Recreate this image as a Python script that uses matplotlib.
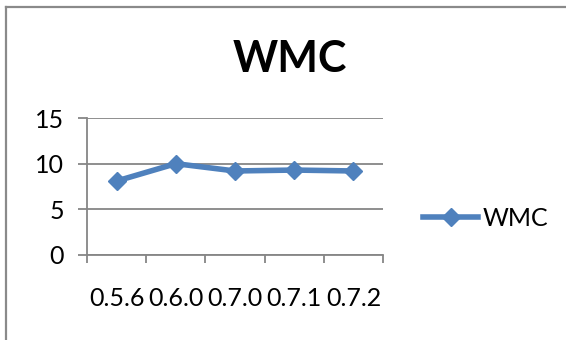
import matplotlib
matplotlib.use("Agg")
import matplotlib.pyplot as plt
from matplotlib.lines import Line2D

# Data
versions = ["0.5.6", "0.6.0", "0.7.0", "0.7.1", "0.7.2"]
wmc = [8.1, 10.0, 9.2, 9.3, 9.2]
y_ticks = [0, 5, 10, 15]
series_name = "WMC"

W, H = 566, 340
plt.rcParams["font.family"] = ["Lato", "DejaVu Sans"]

fig = plt.figure(figsize=(W / 100, H / 100), dpi=100)
fig.patch.set_facecolor("white")

# Plot area
ax = fig.add_axes([87 / W, 1 - 255 / H, (383 - 87) / W, (255 - 118) / H])
x = list(range(1, len(versions) + 1))

line_color = "#4F81BD"
grid_color = "#868686"
label_size = 18

ax.plot(x, wmc, color=line_color, lw=4, marker="D", ms=9,
        mec=line_color, mfc=line_color, solid_joinstyle="miter",
        label=series_name, zorder=3, clip_on=False)

ax.set_xlim(0.5, len(versions) + 0.5)
ax.set_ylim(0, 15)
ax.set_yticks(y_ticks)
ax.set_yticklabels([str(v) for v in y_ticks], fontsize=label_size)
ax.yaxis.grid(True, color=grid_color, lw=1.3)
ax.set_axisbelow(True)

# Category boundaries as major ticks, labels on minor ticks at centres
ax.set_xticks([i + 0.5 for i in range(0, len(versions) + 1)])
ax.set_xticklabels([])
ax.set_xticks(x, minor=True)
ax.set_xticklabels(versions, minor=True, fontsize=label_size)
ax.tick_params(axis="x", which="major", length=6, width=1.3, color=grid_color, direction="out")
ax.tick_params(axis="x", which="minor", length=0, pad=23)
ax.tick_params(axis="y", which="major", length=6.5, width=1.3, color=grid_color, pad=10)

for side in ["top", "right"]:
    ax.spines[side].set_visible(False)
for side in ["left", "bottom"]:
    ax.spines[side].set_color(grid_color)
    ax.spines[side].set_linewidth(1.3)

# Title
fig.text(290 / W, 1 - 71.7 / H, "WMC", ha="center", va="baseline",
         fontsize=31, fontweight="bold", color="black")

# Legend
leg = fig.legend(handles=[Line2D([], [], color=line_color, lw=4, marker="D", ms=9)],
                 labels=[series_name], loc="center left",
                 bbox_to_anchor=(423 / W, 1 - 218 / H), frameon=False,
                 fontsize=label_size, handlelength=2.2, handletextpad=0.2, borderpad=0,
                 borderaxespad=0)

# Outer chart border (left and top edges visible)
fig.add_artist(Line2D([5.5 / W, 5.5 / W], [0, 1 - 6.5 / H], transform=fig.transFigure,
                      color="#8a8a8a", lw=1.6))
fig.add_artist(Line2D([5.5 / W, 1], [1 - 6.5 / H, 1 - 6.5 / H], transform=fig.transFigure,
                      color="#8a8a8a", lw=1.6))

fig.savefig("out.png", dpi=100, facecolor="white")
